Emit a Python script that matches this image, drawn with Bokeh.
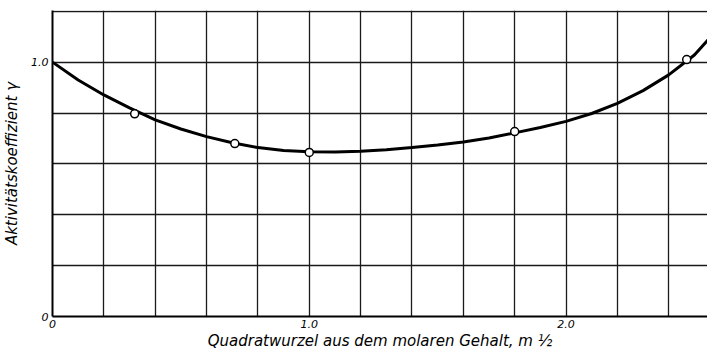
from bokeh.plotting import figure
from bokeh.models import FixedTicker, Range1d
from bokeh.embed import file_html
from bokeh.resources import INLINE

# curve (sqrt m, gamma)
curve_x = [0.0, 0.1, 0.2, 0.3, 0.4, 0.5, 0.6, 0.7, 0.8, 0.9, 1.0, 1.1, 1.2, 1.3,
           1.4, 1.5, 1.6, 1.7, 1.8, 1.9, 2.0, 2.1, 2.2, 2.3, 2.4, 2.5, 2.6]
curve_y = [1.0, 0.93, 0.871, 0.82, 0.773, 0.737, 0.707, 0.683, 0.664, 0.653, 0.648,
           0.647, 0.650, 0.656, 0.664, 0.674, 0.686, 0.702, 0.722, 0.743, 0.767,
           0.798, 0.838, 0.888, 0.950, 1.028, 1.14]
# measured points
pts_x = [0.32, 0.71, 1.0, 1.8, 2.47]
pts_y = [0.797, 0.68, 0.645, 0.727, 1.01]

x_ticks = [0, 1.0, 2.0]
x_tick_labels = {0: "0", 1: "1.0", 2: "2.0"}
y_ticks = [0, 1.0]
y_tick_labels = {0: "0", 1: "1.0"}
grid_x = [0.2, 0.4, 0.6, 0.8, 1.0, 1.2, 1.4, 1.6, 1.8, 2.0, 2.2, 2.4]
grid_y = [0.2, 0.4, 0.6, 0.8, 1.0, 1.2]

FONT = "DejaVu Sans"

p = figure(width=707, height=352, output_backend="svg", toolbar_location=None,
           x_range=Range1d(0, 2.551), y_range=Range1d(0, 1.203),
           min_border_left=50, min_border_right=0, min_border_top=10,
           min_border_bottom=34)
p.outline_line_color = None
p.background_fill_color = "white"
p.border_fill_color = "white"

p.xgrid.ticker = FixedTicker(ticks=grid_x)
p.ygrid.ticker = FixedTicker(ticks=grid_y)
for g in (p.xgrid, p.ygrid):
    g.grid_line_color = "#1a1a1a"
    g.grid_line_width = 1.3
    g.grid_line_alpha = 1.0

for ax in (p.xaxis, p.yaxis):
    ax.axis_line_color = "black"
    ax.axis_line_width = 2
    ax.major_tick_line_color = None
    ax.minor_tick_line_color = None
    ax.major_tick_out = 0
    ax.major_tick_in = 0
    ax.major_label_text_font = FONT
    ax.major_label_text_font_style = "italic"
    ax.major_label_text_font_size = "11px"
    ax.major_label_text_color = "black"
    ax.axis_label_text_font = FONT
    ax.axis_label_text_font_style = "italic"
    ax.axis_label_text_font_size = "15px"
    ax.axis_label_text_color = "black"

p.xaxis.ticker = FixedTicker(ticks=x_ticks)
p.xaxis.major_label_overrides = x_tick_labels
p.yaxis.ticker = FixedTicker(ticks=y_ticks)
p.yaxis.major_label_overrides = y_tick_labels
p.xaxis.major_label_standoff = 3
p.yaxis.major_label_standoff = 4
p.xaxis.axis_label = "Quadratwurzel aus dem molaren Gehalt, m \u00bd"
p.yaxis.axis_label = "Aktivitätskoeffizient \u03b3"
p.xaxis.axis_label_standoff = 1
p.yaxis.axis_label_standoff = 7

p.line(curve_x, curve_y, line_color="black", line_width=3)
p.scatter(pts_x, pts_y, marker="circle", size=8, fill_color="white",
          line_color="black", line_width=1.5)

open("out.html", "w").write(file_html(p, INLINE))
